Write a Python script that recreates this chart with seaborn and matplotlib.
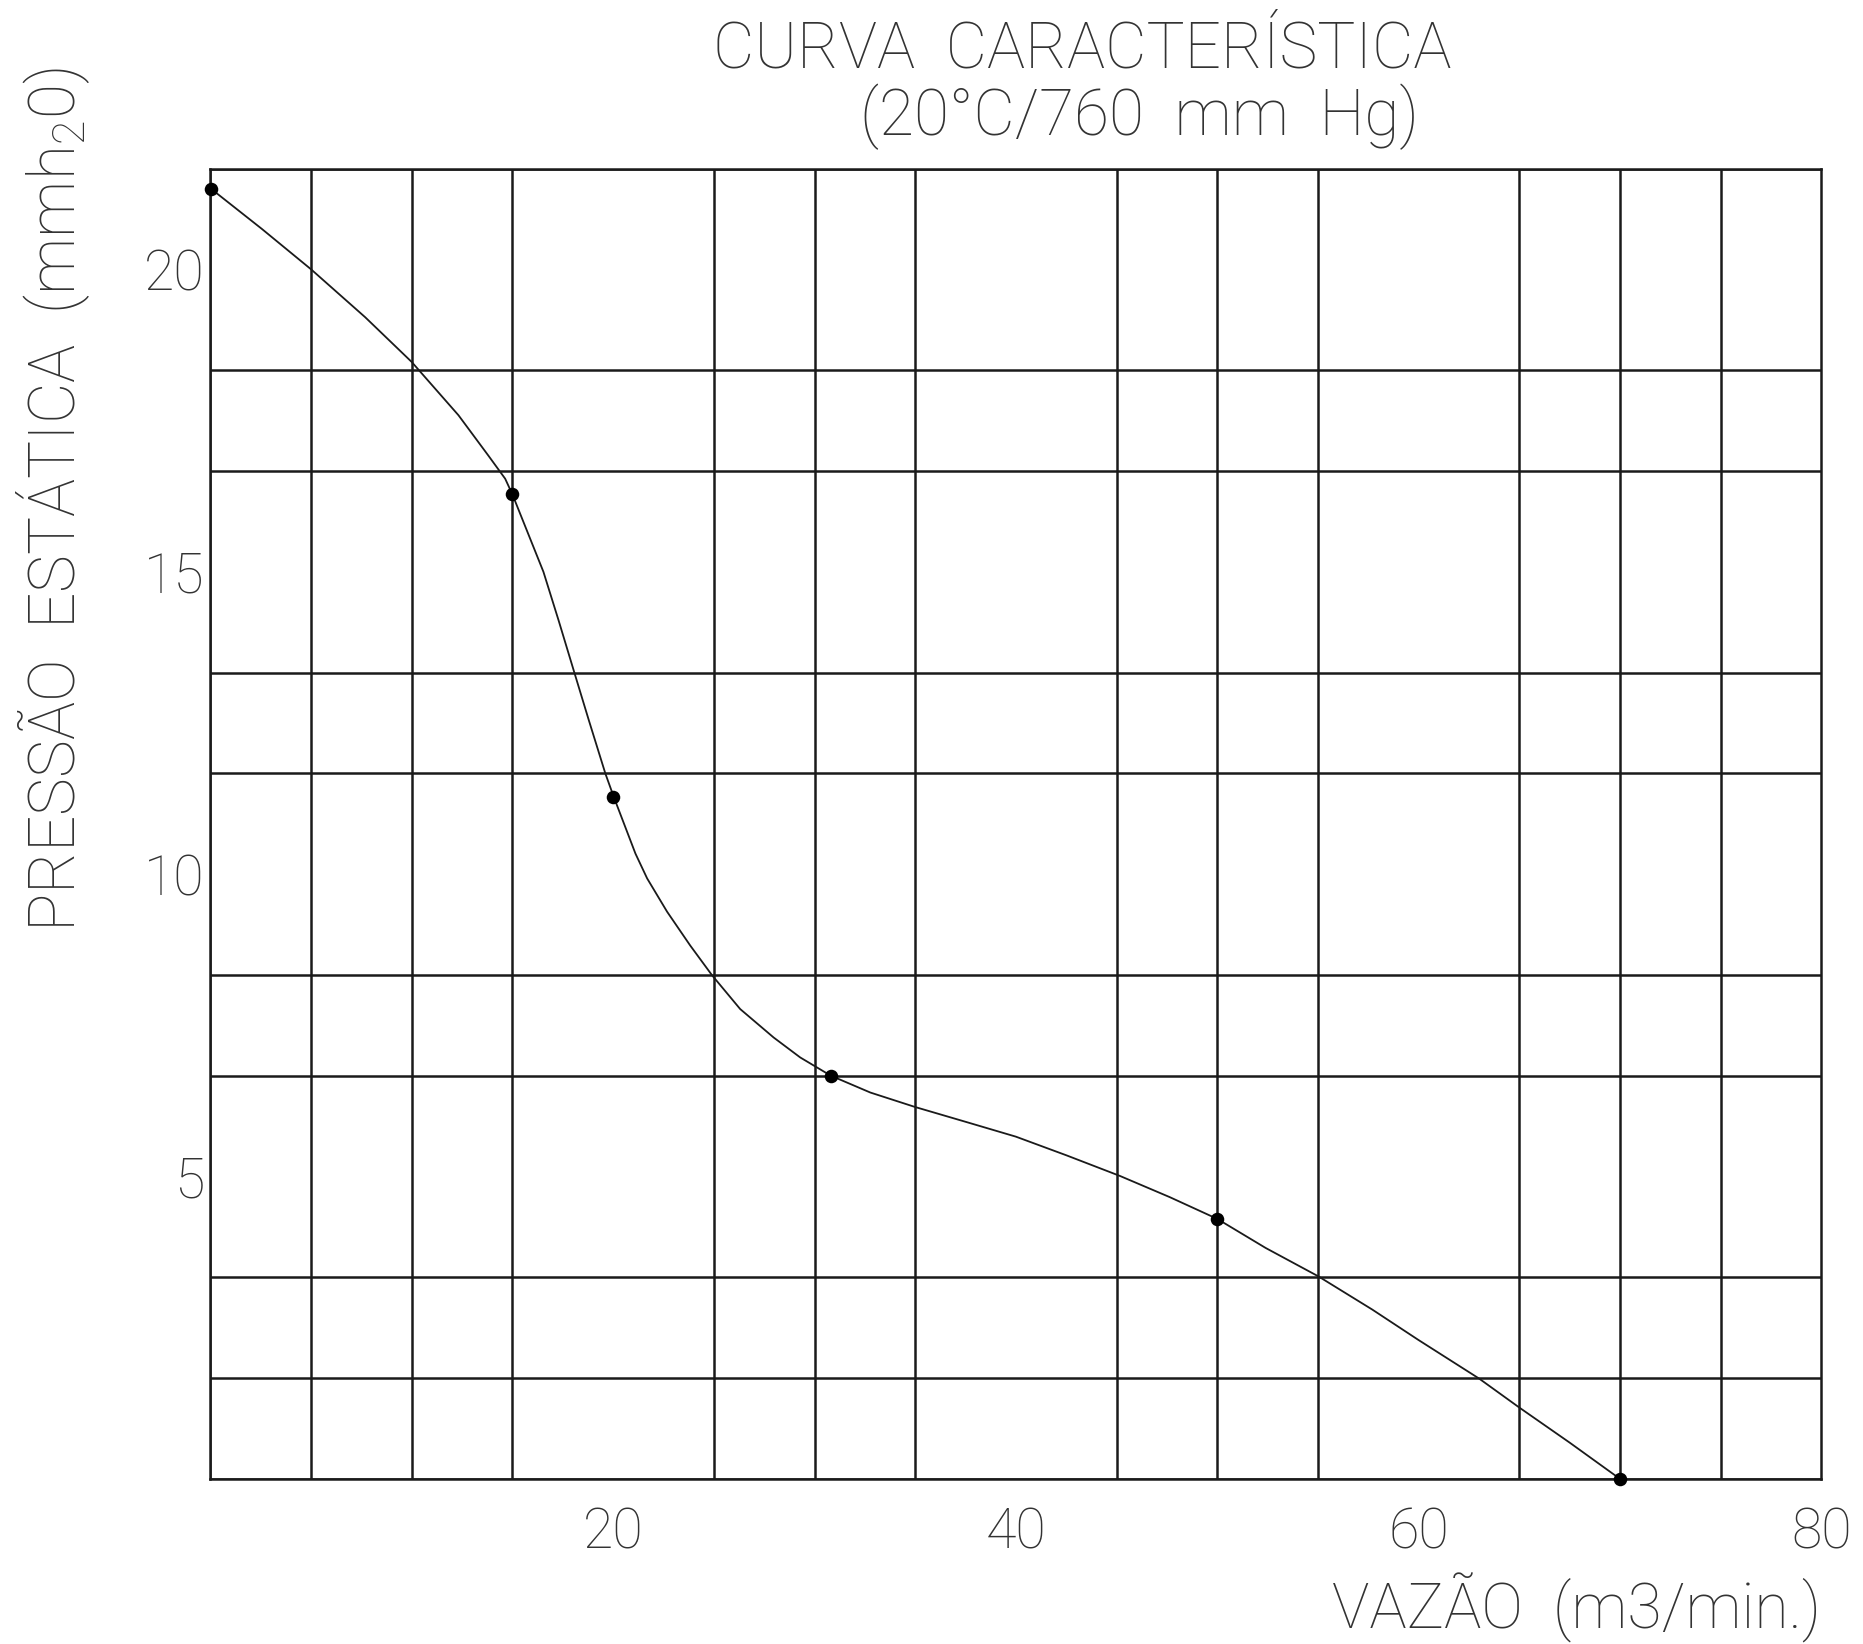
import matplotlib
matplotlib.use('Agg')
import matplotlib.pyplot as plt
import numpy as np
import pandas as pd
import seaborn as sns

# DATA

# measured points of the fan curve
vazao_pts = [0.05, 15, 20, 30.8, 50, 70]
pressao_pts = [21.33, 16.28, 11.28, 6.67, 4.30, 0.0]

# points
curva_x = [0.05, 2.56, 5.01, 7.69, 10.0, 12.32, 13.81, 14.64, 15.0, 16.54, 17.29,
           18.07, 18.79, 19.62, 20.03, 21.11, 21.69, 22.68, 23.83, 24.91, 26.31,
           27.97, 29.29, 30.8, 32.77, 35.0, 37.56, 40.0, 42.52, 45.17, 47.64, 50.0,
           52.4, 55.02, 57.7, 59.98, 63.0, 65.0, 67.5, 70]
curva_y = [21.33, 20.67, 20.0, 19.21, 18.47, 17.59, 16.92, 16.54, 16.28, 15.0, 14.20,
           13.34, 12.55, 11.66, 11.28, 10.34, 9.93, 9.38, 8.82, 8.33, 7.77,
           7.30, 6.97, 6.67, 6.39, 6.15, 5.90, 5.66, 5.35, 5.01, 4.66, 4.30,
           3.82, 3.35, 2.80, 2.30, 1.66, 1.18, 0.6, 0.0]

x_ticks = [20, 40, 60, 80]
x_tick_labels = ['20', '40', '60', '80']
y_ticks = [5, 10, 15, 20]
y_tick_labels = ['5', '10', '15', '20']

titulo_1 = 'CURVA  CARACTERÍSTICA'
titulo_2 = '(20°C/760  mm  Hg)'
label_x = 'VAZÃO  (m3/min.)'
label_y = 'PRESSÃO  ESTÁTICA  (mmh$_2$0)'

# STYLE

sns.set_style('white')
plt.rcParams['font.family'] = ['Roboto', 'DejaVu Sans']
plt.rcParams['font.weight'] = 'light'
plt.rcParams['mathtext.default'] = 'regular'

fig = plt.figure(figsize=(18.63, 16.44), dpi=100)
ax = fig.add_axes([0.1129, 0.1004, 0.8648, 0.7970])

# CURVE AND POINTS

df_curva = pd.DataFrame({'x': curva_x, 'y': curva_y})
df_pts = pd.DataFrame({'x': vazao_pts, 'y': pressao_pts})

sns.lineplot(data=df_curva, x='x', y='y', sort=False, color='#1a1a1a', linewidth=1.3, ax=ax)
sns.scatterplot(data=df_pts, x='x', y='y', color='black', s=95, edgecolor='black',
                linewidth=0, zorder=5, clip_on=False, ax=ax)

# GRID

ax.set_xlim(0, 80)
ax.set_ylim(0, 13 * 5 / 3)
ax.set_xticks(x_ticks)
ax.set_xticklabels(x_tick_labels)
ax.set_yticks(y_ticks)
ax.set_yticklabels(y_tick_labels)
ax.set_xticks(np.arange(0, 81, 5), minor=True)
ax.set_yticks(np.arange(0, 14) * 5 / 3, minor=True)
ax.grid(which='minor', color='#1a1a1a', linewidth=1.8)
ax.grid(which='major', visible=False)
ax.tick_params(which='both', length=0)
ax.tick_params(axis='y', labelsize=40, pad=4, colors='#333333')
ax.tick_params(axis='x', labelsize=40, pad=20, colors='#333333')
for s in ax.spines.values():
    s.set_color('#1a1a1a')
    s.set_linewidth(1.8)
ax.set_xlabel('')
ax.set_ylabel('')

# TEXTS

fig.text(0.581, 0.970, titulo_1, ha='center', va='center', fontsize=46, color='#333333')
fig.text(0.6116, 0.929, titulo_2, ha='center', va='center', fontsize=46, color='#333333')
fig.text(0.9777, 0.022, label_x, ha='right', va='center', fontsize=45, color='#333333')
fig.text(0.0287, 0.6965, label_y, ha='center', va='center', rotation=90, fontsize=46,
         color='#333333')

fig.savefig('out.png', dpi=100)
